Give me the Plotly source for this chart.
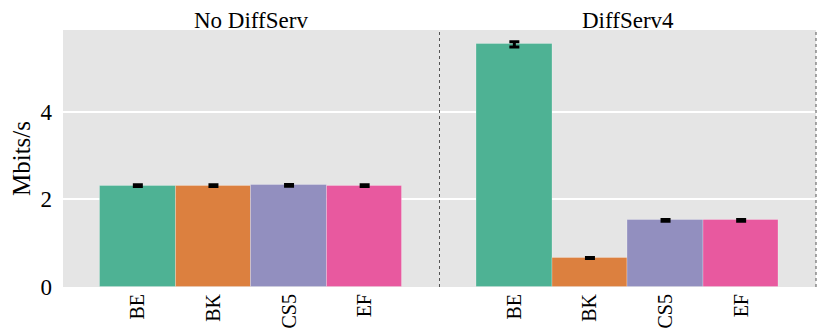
import plotly.graph_objects as go
from plotly.subplots import make_subplots

# data
categories = ["BE", "BK", "CS5", "EF"]
panel_titles = ["No DiffServ", "DiffServ4"]
no_diffserv = [2.31, 2.31, 2.32, 2.31]
no_diffserv_err = [0.02, 0.02, 0.02, 0.02]
diffserv4 = [5.53, 0.66, 1.52, 1.52]
diffserv4_err = [0.06, 0.01, 0.02, 0.02]
y_ticks = [0, 2, 4]

colors = ["#4eb294", "#dc803f", "#928fbf", "#e8599f"]
FONT = "Liberation Serif"

fig = make_subplots(rows=1, cols=2, shared_yaxes=True, horizontal_spacing=0)

for col, (vals, errs) in enumerate([(no_diffserv, no_diffserv_err),
                                     (diffserv4, diffserv4_err)], start=1):
    fig.add_trace(go.Bar(
        x=categories, y=vals,
        marker=dict(color=colors, line=dict(color="rgba(255,255,255,0.25)", width=1)),
        error_y=dict(type="data", array=errs, color="black", thickness=3, width=5),
        width=1.0,
        showlegend=False,
    ), row=1, col=col)

# the page body has an 8px margin, so the figure is sized to fit inside it
fig.update_layout(
    width=814, height=320,
    margin=dict(l=55, r=6, t=22, b=41, autoexpand=False),
    plot_bgcolor="#e5e5e5",
    paper_bgcolor="white",
    font=dict(family=FONT, size=20, color="black"),
    bargap=0,
)

fig.update_xaxes(domain=[0, 0.5], row=1, col=1)
fig.update_xaxes(domain=[0.5, 1], row=1, col=2)
fig.update_xaxes(range=[-0.99, 3.99], tickangle=-90, showgrid=False,
                 zeroline=False, ticks="", ticklabelstandoff=2,
                 automargin=False, tickfont=dict(size=20))
fig.update_yaxes(range=[0, 5.86], tickvals=y_ticks, showgrid=True,
                 gridcolor="white", gridwidth=2, zeroline=False, ticks="",
                 automargin=False)
fig.update_yaxes(title=dict(text="Mbits/s", font=dict(size=25), standoff=10),
                 ticklabelstandoff=10, tickfont=dict(size=23), row=1, col=1)

# panel titles
for i, t in enumerate(panel_titles):
    fig.add_annotation(text=t, x=0.25 + 0.5 * i, y=1, xref="paper", yref="paper",
                       xanchor="center", yanchor="bottom", yshift=-5,
                       showarrow=False, font=dict(size=23))

# dotted separators at the right edge of each panel
for xp in [0.5, 1.0]:
    fig.add_shape(type="line", xref="paper", yref="paper", x0=xp, x1=xp, y0=0, y1=1,
                  line=dict(color="#555555", width=1, dash="dot"))

fig.write_html("out.html")
